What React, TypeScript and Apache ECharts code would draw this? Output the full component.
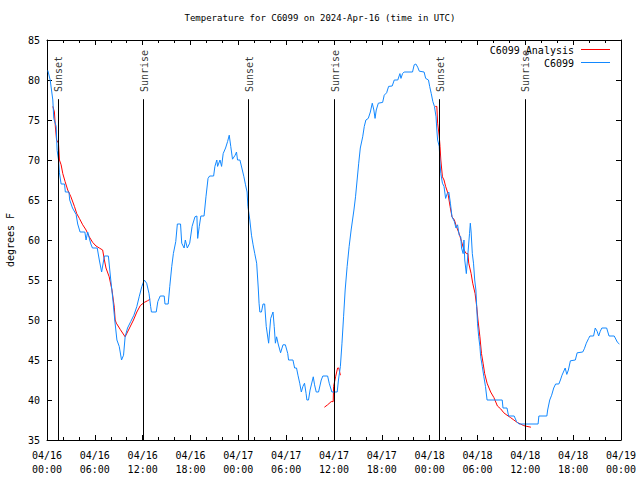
import React, { useEffect, useRef } from "react";
import * as echarts from "echarts";

// Hours since 2024-04-16 00:00 UTC
const obsHours = [
  0.1, 0.4, 0.73, 0.85, 1.15, 1.27, 1.45, 1.56, 1.77, 2.2, 2.3, 2.75, 2.85, 3.2, 3.65, 3.85, 4.15, 4.75, 4.9, 5.1,
  5.5, 5.7, 6.3, 6.56, 6.85, 7.2, 7.7, 8.0, 8.27, 8.5, 8.77, 9.06, 9.35, 9.6, 9.8, 10.1, 10.5, 10.9, 11.27, 11.56,
  11.9, 12.2, 12.5, 12.8, 13.0, 13.1, 13.7, 13.9, 14.2, 14.7, 14.8, 15.2, 15.4, 15.65, 15.85, 16.15, 16.35, 16.75, 16.9, 17.2,
  17.35, 17.6, 17.9, 18.2, 18.56, 18.8, 18.9, 19.1, 19.3, 19.7, 19.94, 20.2, 20.4, 20.9, 21.06, 21.3, 21.4, 21.7, 21.9, 22.1,
  22.4, 22.65, 22.86, 23.05, 23.27, 23.6, 23.77, 23.9, 24.2, 24.5, 24.7, 24.9, 25.1, 25.2, 25.44, 25.65, 25.85, 26.06, 26.3, 26.5,
  26.6, 26.7, 26.9, 27.1, 27.3, 27.5, 27.8, 28.06, 28.35, 28.5, 28.65, 28.8, 29.0, 29.3, 29.6, 29.9, 30.2, 30.3, 30.85, 31.06,
  31.3, 31.48, 31.7, 31.9, 32.1, 32.3, 32.5, 32.6, 32.8, 33.0, 33.4, 33.56, 33.77, 34.06, 34.4, 34.6, 35.2, 35.4, 35.73, 36.4,
  36.56, 36.8, 37.0, 37.2, 37.4, 37.65, 37.9, 38.15, 38.5, 38.7, 38.9, 39.1, 39.3, 39.6, 39.8, 40.0, 40.3, 40.56, 40.8, 41.0,
  41.15, 41.3, 41.56, 42.1, 42.3, 42.6, 42.85, 43.3, 43.56, 44.0, 44.27, 44.4, 44.6, 44.8, 45.85, 46.06, 46.27, 46.5, 46.7, 47.3,
  47.5, 47.85, 48.0, 48.2, 48.4, 48.6, 48.8, 48.9, 49.0, 49.2, 49.3, 49.4, 49.6, 49.8, 50.0, 50.2, 50.4, 50.6, 50.8, 51.1,
  51.3, 51.5, 51.7, 51.9, 52.0, 52.2, 52.3, 52.4, 52.6, 52.7, 52.8, 53.0, 53.1, 53.2, 53.35, 53.5, 53.65, 53.8, 53.9, 54.0,
  54.15, 54.3, 54.4, 54.6, 54.8, 55.0, 55.2, 57.1, 57.2, 57.7, 57.9, 58.6, 58.9, 59.2, 61.6, 61.7, 62.7, 62.8, 63.06, 63.3,
  63.56, 63.8, 64.2, 64.4, 64.6, 65.0, 65.2, 65.4, 65.65, 66.27, 66.5, 67.2, 67.4, 67.65, 67.94, 68.1, 68.56, 68.77, 69.0, 69.2,
  69.4, 69.6, 70.2, 70.5, 71.15, 71.56, 71.8,
];
const obsTemps = [
  81.2, 80, 77.5, 75.2, 74.2, 71.2, 70, 68.4, 67, 67, 66, 66, 65, 64, 63.2, 62, 61, 61, 60, 61,
  59.5, 59, 59, 57.5, 56, 58, 58, 55, 52.5, 50, 47.5, 46.7, 45, 45.6, 47.9, 49, 49.8, 50.6, 51.7, 52.9,
  54.2, 55, 54.6, 53.3, 51.7, 51, 51, 52.3, 53, 53, 52, 52, 54.2, 56.7, 58.3, 59.8, 62, 62, 59.6, 59,
  60, 59, 59.6, 61.7, 62.9, 63, 60.2, 61.7, 63, 63, 65.4, 67.7, 68, 68, 69.2, 70, 69.2, 70, 69.2, 70.8,
  71.5, 72.3, 73.1, 71.7, 70.1, 70.6, 71, 70, 70, 68.75, 67.9, 66.9, 66, 64.2, 62.5, 60.6, 59.4, 58.3, 57.1, 54,
  52.1, 51, 51, 52, 52, 49.2, 47.1, 50.2, 51, 49.2, 47.1, 47.9, 47, 45.9, 46.9, 46.9, 45.8, 45, 45, 44,
  44, 43.1, 42.1, 41, 41.7, 42.1, 40.8, 40, 40, 41.25, 42.9, 41.9, 41, 41, 42.5, 43, 43, 42.1, 41, 41,
  42.5, 44.2, 47.1, 50.4, 53.75, 56.7, 59.2, 61.25, 63.75, 65.4, 67.5, 69.6, 71.5, 72.9, 74.2, 75, 75.2, 76, 77.1, 76.25,
  75.2, 76.25, 77.1, 77.2, 78.1, 78.4, 79.2, 79.25, 80, 80, 80.8, 80.2, 80.8, 81, 81, 81.9, 82, 81.6, 81.1, 81,
  80.2, 80, 79.2, 78.3, 77.3, 76.7, 75.4, 73.75, 72.5, 71.7, 69.6, 68.3, 67.1, 66.7, 65.2, 65.8, 66, 64.6, 62.9, 62.3,
  61.5, 61.9, 60.6, 60.4, 59, 58.3, 60, 57.5, 55.8, 57, 58.3, 60.8, 62.1, 61, 58.3, 57.1, 55, 53.75, 51.7, 49.6,
  47.9, 46.7, 45.4, 44.2, 42.9, 41.7, 40, 40, 39, 39, 38, 38, 37.3, 37, 37, 38, 38, 38.75, 40, 40.6,
  41.5, 42, 42, 42.5, 43.1, 44, 43.2, 43.75, 44.9, 45, 45.9, 46, 46.4, 47.1, 47.7, 48, 48, 49, 48.6, 48,
  48.6, 49, 49, 48, 48, 47.2, 47,
];

// Analysis segments (null = gap)
const anaHours = [
  0.73, 0.93, 1.06, 1.2, 1.44, 1.56, 1.77, 1.98, 2.27, 2.6, 3.0, 3.44, 3.73, 4.06, 4.48, 4.9, 5.3, 5.73, 6.15, 6.56,
  6.98, 7.2, 7.4, 7.8, 8.15, 8.44, 8.55, 8.7, 9.2, 9.8, 10.1, 10.85, 11.27, 11.7, 12.2, 12.6, 12.94,
  null,
  34.8, 35.2, 35.65, 35.9, 35.95, 36.2, 36.45, 36.6, 36.8,
  null,
  48.7, 48.9, 49.0, 49.2, 49.3, 49.4, 49.6, 49.8, 50.0, 50.3, 50.56, 50.8, 51.1, 51.35, 51.7, 52.0, 52.3, 52.6, 52.8, 52.9,
  53.2, 53.4, 53.7, 53.9, 54.06, 54.3, 54.5, 54.7, 54.9, 55.2, 55.65, 56.06, 56.5, 56.9, 57.3, 57.7, 58.15, 58.56, 58.98, 59.4,
  59.8, 60.2, 60.7,
];
const anaTemps = [
  76.7, 76, 74, 72.5, 72.1, 70, 69.4, 68.3, 67.3, 66.25, 65.4, 64.2, 63.3, 62.7, 61.9, 61.25, 60.4, 59.7, 59.25, 59,
  58.75, 57.5, 56.5, 55.4, 53.75, 51.6, 50, 49.6, 48.8, 47.9, 48.5, 50, 51, 51.8, 52.2, 52.4, 52.6,
  null,
  39.1, 39.4, 39.8, 39.8, 41.7, 42.9, 44, 44, 43.1,
  null,
  76.7, 76.7, 74.6, 73, 71.7, 70, 67.9, 67.5, 66.7, 65.8, 64.2, 62.9, 62.5, 61.7, 60.8, 59.8, 58.75, 58.3, 58.3, 57.1,
  55.8, 54.6, 53.3, 51.7, 50, 47.9, 45.8, 44.6, 43.3, 42.1, 41, 40.3, 39.25, 38.9, 38.4, 38.1, 37.8, 37.5, 37.2, 37,
  36.8, 36.7, 36.6,
];

const sunTimes = [1.35, 12.1, 25.23, 36.06, 49.23, 59.94];
const sunLabels = ["Sunset", "Sunrise", "Sunset", "Sunrise", "Sunset", "Sunrise"];
const sunLineTop = 77.6;
const sunLabelBase = 78.5;

const tickLabels = [
  "04/16\n00:00", "04/16\n06:00", "04/16\n12:00", "04/16\n18:00",
  "04/17\n00:00", "04/17\n06:00", "04/17\n12:00", "04/17\n18:00",
  "04/18\n00:00", "04/18\n06:00", "04/18\n12:00", "04/18\n18:00",
  "04/19\n00:00",
];

const titleText = "Temperature for C6099 on 2024-Apr-16 (time in UTC)";
const seriesNames = ["C6099 Analysis", "C6099"];
const seriesColors = ["#ff0000", "#1288ff"];

const MONO = "'DejaVu Sans Mono', 'Liberation Mono', monospace";

export default function App() {
  const ref = useRef<HTMLDivElement>(null);
  useEffect(() => {
    if (!ref.current) return;
    const chart = echarts.init(ref.current, undefined, { renderer: "svg" });
    const obs = obsHours.map((h, i) => [h, obsTemps[i]]);
    const ana = anaHours.map((h, i) => (h === null ? [null, null] : [h, anaTemps[i]]));
    const xCommon = {
      type: "value" as const,
      min: 0,
      max: 72,
      interval: 6,
      splitLine: { show: false },
      axisLine: { show: true, onZero: false, lineStyle: { color: "#000", width: 1 } },
      axisTick: { show: true, inside: true, length: 5, lineStyle: { color: "#000" } },
      minorTick: { show: true, splitNumber: 3, length: 3, lineStyle: { color: "#000" } },
    };
    const yCommon = {
      type: "value" as const,
      min: 35,
      max: 85,
      interval: 5,
      splitLine: { show: false },
      axisLine: { show: true, onZero: false, lineStyle: { color: "#000", width: 1 } },
      axisTick: { show: true, inside: true, length: 5, lineStyle: { color: "#000" } },
    };
    chart.setOption({
      animation: false,
      backgroundColor: "#fff",
      title: {
        text: titleText,
        left: "center",
        top: 13,
        padding: 0,
        textStyle: { fontFamily: MONO, fontSize: 9, fontWeight: "normal", color: "#000" },
      },
      grid: {
        left: 47,
        right: 19,
        top: 40,
        bottom: 40,
        containLabel: false,
        outerBoundsMode: "none",
      },
      xAxis: [
        {
          ...xCommon,
          position: "bottom",
          axisLabel: {
            show: true,
            margin: 8,
            fontFamily: MONO,
            fontSize: 10,
            lineHeight: 14,
            color: "#000",
            formatter: (v: number) => tickLabels[Math.round(v / 6)] ?? "",
          },
        },
        { ...xCommon, position: "top", axisLabel: { show: false } },
      ],
      yAxis: [
        {
          ...yCommon,
          position: "left",
          name: "degrees F",
          nameLocation: "middle",
          nameGap: 32,
          nameTextStyle: { fontFamily: MONO, fontSize: 10, color: "#000" },
          axisLabel: { show: true, margin: 7, fontFamily: MONO, fontSize: 10, color: "#000" },
        },
        { ...yCommon, position: "right", axisLabel: { show: false } },
      ],
      graphic: [
        {
          type: "text",
          x: 574,
          y: 50,
          style: {
            text: seriesNames[0],
            textAlign: "right",
            textVerticalAlign: "middle",
            font: `10px ${MONO}`,
            fill: "#000",
          },
        },
        {
          type: "line",
          shape: { x1: 581, y1: 49.5, x2: 610, y2: 49.5 },
          style: { stroke: seriesColors[0], lineWidth: 1 },
        },
        {
          type: "text",
          x: 574,
          y: 63,
          style: {
            text: seriesNames[1],
            textAlign: "right",
            textVerticalAlign: "middle",
            font: `10px ${MONO}`,
            fill: "#000",
          },
        },
        {
          type: "line",
          shape: { x1: 581, y1: 62.5, x2: 610, y2: 62.5 },
          style: { stroke: seriesColors[1], lineWidth: 1 },
        },
      ],
      series: [
        {
          type: "scatter",
          name: "sun",
          symbolSize: 0,
          silent: true,
          data: sunTimes.map((t, i) => ({ value: [t, sunLabelBase], name: sunLabels[i] })),
          label: {
            show: true,
            position: "inside",
            rotate: 90,
            align: "left",
            verticalAlign: "middle",
            offset: [0, 1],
            formatter: "{b}",
            fontFamily: MONO,
            fontSize: 10,
            color: "#000",
          },
          markLine: {
            silent: true,
            symbol: ["none", "none"],
            label: { show: false },
            lineStyle: { color: "#000", width: 1, type: "solid" },
            data: sunTimes.map((t) => [{ coord: [t, sunLineTop] }, { coord: [t, 35] }]),
          },
        },
        {
          type: "line",
          name: seriesNames[0],
          data: ana,
          showSymbol: false,
          symbol: "none",
          connectNulls: false,
          lineStyle: { color: seriesColors[0], width: 1 },
          itemStyle: { color: seriesColors[0] },
        },
        {
          type: "line",
          name: seriesNames[1],
          data: obs,
          showSymbol: false,
          symbol: "none",
          lineStyle: { color: seriesColors[1], width: 1 },
          itemStyle: { color: seriesColors[1] },
        },
      ],
    });
    return () => chart.dispose();
  }, []);
  return (
    <div
      ref={ref}
      style={{ position: "absolute", left: 0, top: 0, width: 640, height: 480, background: "#fff" }}
    />
  );
}
